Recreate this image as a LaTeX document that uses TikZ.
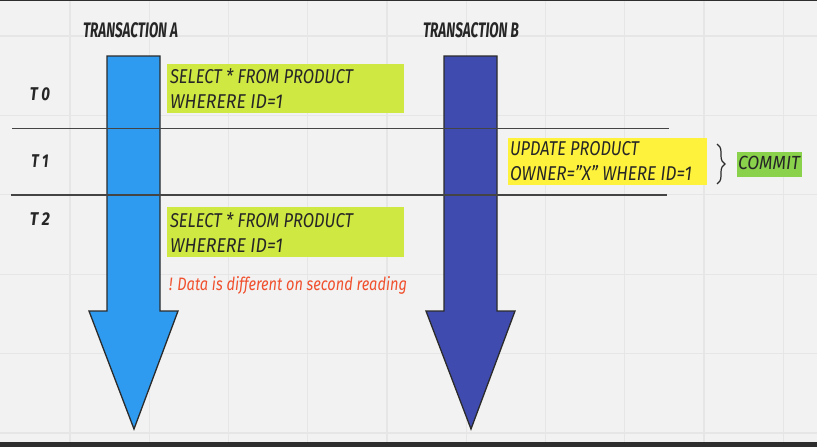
\documentclass[tikz,border=0pt]{standalone}
\usepackage{fontspec}
\usepackage{graphicx}
\setmainfont{Fira Sans}
\usetikzlibrary{decorations.pathreplacing}
\definecolor{bg}{HTML}{F2F2F2}
\definecolor{gridc}{HTML}{E6E6E6}
\definecolor{arrA}{RGB}{46,155,240}
\definecolor{arrB}{RGB}{64,75,175}
\definecolor{boxg}{RGB}{208,232,66}
\definecolor{boxy}{RGB}{255,242,60}
\definecolor{commitg}{RGB}{138,210,76}
\definecolor{redt}{RGB}{240,80,45}
\definecolor{linec}{HTML}{444444}
\definecolor{outl}{HTML}{2B2B2B}
\newcommand{\fitw}[2]{\resizebox{#1pt}{\height}{#2}}
\tikzset{
  arrowbody/.style={draw=outl, line width=1.3pt, line join=miter},
  sepline/.style={draw=linec, line width=1.4pt},
  txt/.style={inner sep=0pt, outer sep=0pt, anchor=base west, font=\fontsize{20}{24}\selectfont\itshape, text=black!85},
  head/.style={inner sep=0pt, outer sep=0pt, anchor=base west, font=\fontsize{21}{24}\selectfont\bfseries\itshape, text=black!85},
  tlab/.style={inner sep=0pt, outer sep=0pt, anchor=base, font=\fontsize{18.5}{20}\selectfont\bfseries\itshape, text=black!85},
}
\begin{document}
\begin{tikzpicture}[x=1pt,y=-1pt]
\useasboundingbox (0,0) rectangle (817,447);
\fill[bg] (0,0) rectangle (817,447);
% grid
\foreach \k in {0,...,9} { \draw[gridc, line width=1.2pt] ({70+79.25*\k},0) -- ({70+79.25*\k},447); }
\foreach \k in {0,...,5} { \draw[gridc, line width=1.2pt] (0,{36+79.4*\k}) -- (817,{36+79.4*\k}); }
% frame bars
\fill[black!82] (0,0) rectangle (817,1.2);
\fill[black!82] (0,442) rectangle (817,447);
% arrows
\path[arrowbody, fill=arrA] (107,56) -- (160,56) -- (160,311) -- (178,311) -- (134,429) -- (89,311) -- (107,311) -- cycle;
\path[arrowbody, fill=arrB] (444,56) -- (497,56) -- (497,311) -- (515,311) -- (471,429) -- (426,311) -- (444,311) -- cycle;
% separator lines
\coordinate (l1a) at (12,128.5); \coordinate (l1b) at (669,128.5);
\coordinate (l2a) at (11,195); \coordinate (l2b) at (667,195);
\draw[sepline] (l1a) -- (l1b);
\draw[sepline] (l2a) -- (l2b);
% headers
\node[head] (hA) at (83,37) {\fitw{95}{TRANSACTION A}};
\node[head] (hB) at (423,37) {\fitw{96}{TRANSACTION B}};
% time labels
\node[tlab] (t0) at (40,100) {\fitw{20}{T 0}};
\node[tlab] (t1) at (40,167.5) {\fitw{17}{T 1}};
\node[tlab] (t2) at (40,225) {\fitw{20}{T 2}};
% boxes
\fill[boxg] (167,64) rectangle (404,113);
\fill[boxg] (167,207) rectangle (404,257);
\fill[boxy] (508,138) rectangle (707,185);
\fill[commitg] (737,152) rectangle (802,177);
\node[txt] (b1l1) at (170,83) {\fitw{183}{SELECT * FROM PRODUCT}};
\node[txt] (b1l2) at (170,108) {\fitw{113}{WHERERE ID=1}};
\node[txt] (b2l1) at (170,227) {\fitw{183}{SELECT * FROM PRODUCT}};
\node[txt] (b2l2) at (170,252) {\fitw{113}{WHERERE ID=1}};
\node[txt] (ul1) at (510,155) {\fitw{129}{UPDATE PRODUCT}};
\node[txt] (ul2) at (510,180) {\fitw{182}{OWNER=\char"22 X\char"22\ WHERE ID=1}};
\node[txt, font=\fontsize{19}{22}\selectfont\itshape] (commit) at (738,169) {\fitw{62}{COMMIT}};
% note
\node[txt, font=\fontsize{18}{22}\selectfont\itshape, text=redt] (note) at (169,290) {\fitw{238}{! Data is different on second reading}};
% brace
\coordinate (brt) at (717,144);
\coordinate (brb) at (717,184);
\draw[outl, line width=1.2pt, decorate, decoration={brace, amplitude=8pt}] (brt) -- (brb);
\end{tikzpicture}
\end{document}
